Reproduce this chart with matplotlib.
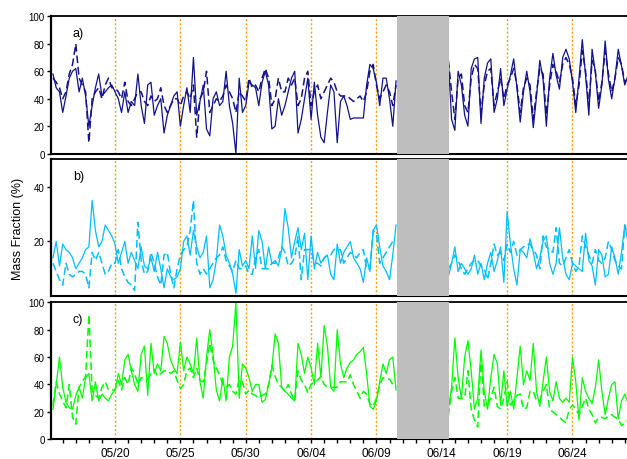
import numpy as np
import matplotlib.pyplot as plt

plt.rcParams['font.family'] = ['Liberation Sans', 'DejaVu Sans']

# 6-hourly samples, days counted from 05/15 00:00; no data 06/10 12:00 - 06/14 13:00
t_before = np.arange(1, 107) * 0.25
t_after = np.arange(122, 178) * 0.25
n_before = len(t_before)
gap_start, gap_end = 26.55, 30.55

# a) mass fraction (%), solid and dashed series
a_solid = [58, 48, 45, 30, 42, 55, 60, 62, 45, 55, 42, 20, 35, 48, 58, 42, 45, 48, 50, 45,
           40, 30, 45, 30, 38, 35, 58, 35, 22, 50, 52, 28, 35, 40, 15, 28, 35, 42, 45, 20,
           35, 48, 30, 70, 28, 38, 50, 18, 13, 40, 45, 35,
           38, 60, 35, 22, 0, 55, 30, 35, 52, 50, 48, 35, 52, 60, 50, 18, 20, 40, 28, 35,
           45, 55, 60, 15, 25, 40, 55, 25, 52, 28, 12, 8, 30, 50, 45, 8, 38, 42, 35, 25,
           26, 26, 26, 26, 50, 65, 62, 52, 35, 55, 55, 40, 20, 53,
           68, 25, 17, 60, 50, 28, 20, 62, 69, 70, 22, 55, 66, 69, 30, 40, 62, 35, 47, 57,
           69, 48, 23, 45, 60, 45, 19, 42, 68, 54, 20, 55, 73, 57, 47, 70, 76, 69, 52, 30,
           55, 83, 57, 28, 76, 59, 33, 50, 82, 54, 40, 55, 76, 64, 50, 57]
a_dashed = [55, 52, 48, 40, 45, 58, 65, 80, 55, 50, 45, 8, 40, 45, 48, 40, 50, 55, 48, 48,
            45, 40, 52, 38, 35, 40, 45, 45, 38, 35, 42, 38, 40, 48, 35, 30, 35, 40, 40, 35,
            42, 45, 40, 50, 12, 40, 45, 60, 30, 35, 40, 38,
            42, 50, 45, 40, 30, 45, 42, 38, 55, 48, 50, 45, 55, 62, 55, 35, 40, 55, 45, 45,
            55, 50, 55, 35, 40, 55, 60, 35, 45, 50, 40, 45, 50, 55, 52, 45, 42, 42, 42, 40,
            38, 40, 42, 38, 45, 60, 65, 50, 40, 45, 50, 45, 35, 50,
            68, 45, 25, 55, 58, 35, 30, 55, 65, 62, 30, 50, 60, 62, 35, 45, 55, 40, 50, 55,
            62, 50, 30, 48, 55, 50, 25, 45, 62, 58, 28, 50, 65, 60, 52, 65, 70, 65, 55, 35,
            50, 75, 60, 35, 68, 60, 38, 52, 75, 58, 45, 55, 70, 65, 52, 55]

# b)
b_solid = [14, 20, 11, 19, 17, 16, 14, 10, 12, 14, 17, 18, 35, 24, 18, 20, 26, 24, 22, 19,
           12, 16, 20, 12, 16, 13, 10, 18, 11, 10, 14, 9, 16, 10, 3, 10, 7, 6, 7, 10,
           20, 22, 15, 24, 18, 14, 16, 22, 3, 6, 13, 26,
           22, 15, 12, 8, 1, 17, 11, 13, 10, 22, 10, 24, 20, 10, 18, 12, 13, 11, 17, 32,
           25, 14, 20, 25, 17, 23, 6, 22, 10, 16, 12, 14, 15, 8, 6, 19, 12, 16, 18, 20,
           14, 12, 10, 5, 14, 9, 24, 26, 18, 11, 9, 6, 15, 26,
           7, 12, 18, 9, 12, 10, 8, 10, 15, 8, 12, 6, 12, 16, 9, 13, 18, 5, 31, 19,
           10, 4, 17, 16, 14, 21, 16, 10, 14, 20, 22, 12, 8, 12, 25, 14, 8, 6, 12, 11,
           10, 9, 23, 13, 11, 4, 17, 15, 7, 8, 18, 14, 8, 16, 26, 20]
b_dashed = [12, 9, 6, 4, 12, 8, 7, 8, 9, 9, 8, 3, 16, 13, 16, 12, 8, 9, 12, 12,
            17, 10, 7, 5, 4, 2, 27, 13, 8, 9, 16, 12, 7, 4, 15, 16, 8, 3, 10, 15,
            17, 18, 24, 35, 12, 8, 10, 8, 10, 12, 14, 15,
            18, 13, 11, 9, 13, 10, 10, 11, 8, 8, 14, 17, 10, 10, 10, 12, 12, 14, 18, 16,
            11, 12, 14, 22, 6, 17, 17, 17, 12, 12, 11, 14, 15, 15, 17, 17, 17, 12, 14, 16,
            15, 14, 16, 17, 10, 10, 24, 23, 12, 14, 16, 18, 20, 20,
            10, 12, 15, 13, 10, 8, 10, 12, 13, 13, 11, 10, 6, 12, 19, 15, 16, 13, 19, 16,
            20, 15, 17, 18, 19, 19, 17, 15, 10, 22, 18, 17, 16, 25, 12, 11, 14, 17, 12, 9,
            11, 22, 18, 15, 12, 17, 13, 12, 14, 20, 17, 13, 11, 10, 26, 22]

# c)
c_solid = [22, 40, 60, 38, 27, 23, 22, 32, 38, 30, 45, 48, 28, 42, 28, 33, 30, 28, 33, 36,
           48, 40, 58, 62, 50, 40, 35, 62, 68, 32, 70, 48, 55, 50, 75, 70, 58, 52, 48, 71,
           50, 60, 55, 48, 74, 42, 30, 60, 80, 62, 36, 28,
           45, 28, 60, 68, 100, 30, 55, 52, 45, 35, 40, 40, 27, 29, 40, 52, 77, 70, 38, 35,
           33, 30, 28, 70, 62, 48, 60, 52, 40, 70, 45, 83, 68, 38, 35, 80, 55, 45, 52, 56,
           58, 62, 64, 67, 48, 24, 22, 28, 42, 55, 48, 58, 60, 36,
           22, 38, 74, 45, 30, 60, 72, 50, 22, 30, 65, 35, 22, 45, 62, 55, 25, 50, 24, 35,
           22, 45, 68, 40, 50, 43, 70, 35, 24, 42, 60, 35, 28, 42, 30, 27, 30, 27, 60, 42,
           14, 45, 35, 30, 26, 38, 58, 35, 18, 30, 40, 42, 15, 28, 33, 26]
c_dashed = [25, 42, 33, 28, 23, 40, 16, 11, 38, 42, 46, 91, 35, 32, 30, 38, 42, 36, 36, 36,
            43, 36, 45, 40, 52, 48, 40, 45, 45, 44, 48, 51, 46, 48, 50, 50, 48, 50, 43, 37,
            40, 50, 52, 45, 52, 43, 42, 55, 70, 58, 52, 47,
            40, 38, 40, 35, 33, 44, 42, 33, 36, 33, 32, 30, 32, 33, 40, 54, 46, 40, 38, 35,
            40, 33, 28, 50, 43, 40, 34, 40, 42, 43, 46, 40, 38, 38, 38, 38, 42, 42, 42, 47,
            40, 35, 30, 35, 33, 26, 24, 30, 40, 45, 44, 44, 40, 38,
            17, 35, 45, 30, 30, 30, 50, 22, 14, 9, 60, 24, 25, 30, 38, 24, 22, 30, 42, 25,
            28, 32, 33, 22, 23, 35, 35, 28, 28, 35, 40, 22, 20, 18, 16, 14, 12, 22, 25, 22,
            18, 24, 30, 22, 18, 12, 16, 16, 15, 17, 18, 16, 15, 10, 12, 14]

tick_days = [5, 10, 15, 20, 25, 30, 35, 40]
tick_labels = ['05/20', '05/25', '05/30', '06/04', '06/09', '06/14', '06/19', '06/24']

panels = [
    ('a)', a_solid, a_dashed, '#12128c', (0, 100), [0, 20, 40, 60, 80, 100]),
    ('b)', b_solid, b_dashed, '#00bfff', (0, 50), [20, 40]),
    ('c)', c_solid, c_dashed, '#00ff00', (0, 100), [0, 20, 40, 60, 80, 100]),
]

t_all = np.concatenate([t_before, [np.nan], t_after])


def with_gap(values):
    v = np.asarray(values, dtype=float)
    return np.concatenate([v[:n_before], [np.nan], v[n_before:]])


fig = plt.figure(figsize=(6.27, 4.60), dpi=100)
boxes = [(0.0813, 0.6637, 0.9187, 0.2987),
         (0.0813, 0.3543, 0.9187, 0.2968),
         (0.0813, 0.0428, 0.9187, 0.2979)]

axes = []
for box, (label, solid, dashed, color, ylim, yticks) in zip(boxes, panels):
    ax = fig.add_axes(box)
    ax.plot(t_all, with_gap(solid), color=color, lw=0.9, zorder=2)
    ax.plot(t_all, with_gap(dashed), color=color, lw=1.1, dashes=(5, 2.5), zorder=2)
    for d in tick_days:
        ax.axvline(d, color='#ffa000', lw=1.0, ls=(0, (1.5, 1.5)), zorder=1)
    ax.axvspan(gap_start, gap_end, color='#bebebe', lw=0, zorder=3)
    ax.set_xlim(0.1, 44.17)
    ax.set_ylim(ylim[0], ylim[1])
    ax.set_yticks(yticks)
    ax.set_yticklabels([str(v) for v in yticks])
    ax.tick_params(axis='y', direction='out', length=3, width=1, labelsize=7, pad=1.5)
    ax.tick_params(axis='x', bottom=False, labelbottom=False)
    ax.spines['right'].set_visible(False)
    ax.spines['left'].set_linewidth(1.6)
    ax.spines['bottom'].set_linewidth(1.5)
    ax.spines['top'].set_linewidth(1.3)
    ax.text(0.038, 0.88, label, transform=ax.transAxes, fontsize=9, va='center')
    axes.append(ax)

ax_c = axes[-1]
ax_c.set_xticks(tick_days)
ax_c.set_xticklabels(tick_labels)
ax_c.set_xticks(np.arange(1, 45), minor=True)
ax_c.tick_params(axis='x', which='both', bottom=True, labelbottom=True, direction='out',
                 length=3, width=1, labelsize=8.5, pad=2.5)

fig.text(0.029, 0.503, 'Mass Fraction (%)', rotation=90, fontsize=9,
         ha='center', va='center')

fig.savefig('out.png', dpi=100)
